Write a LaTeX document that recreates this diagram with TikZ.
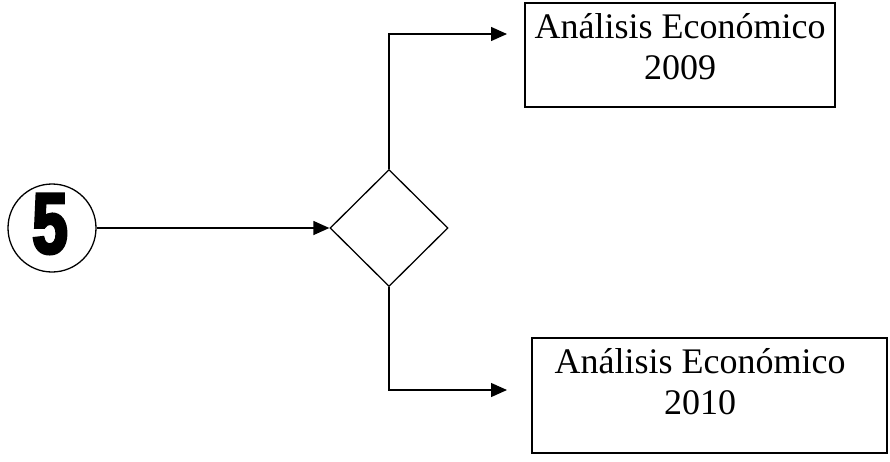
\documentclass[tikz,border=0pt]{standalone}
\usepackage{fontspec}
\setmainfont{Liberation Serif}
\newfontfamily\numfont[FakeBold=3.5,FakeStretch=0.74]{Liberation Sans Bold}
\usetikzlibrary{shapes.geometric,arrows.meta}
\begin{document}
\begin{tikzpicture}[x=1pt,y=-1pt,
  line width=1.3pt,
  flow/.style={-{Triangle[length=16pt,width=14pt]}},
  boxnode/.style={draw,rectangle,inner sep=0pt},
  boxtext/.style={align=center,inner sep=0pt,font=\fontsize{36}{41}\selectfont},
  decision/.style={draw,diamond,inner sep=0pt,minimum width=118pt,minimum height=117pt}]
\useasboundingbox (0,0) rectangle (890,461);

% start marker
\node[draw,circle,minimum size=88pt,inner sep=0pt] (start) at (52,228) {};
\node[inner sep=0pt,font=\fontsize{86}{86}\numfont] (num) at (50,224) {5};

% decision
\node[decision] (dec) at (389,228) {};

% result boxes
\node[boxnode,minimum width=310pt,minimum height=104pt] (b1) at (680,55) {};
\node[boxtext] (b1t) at (680,47) {Análisis Económico\\2009};
\node[boxnode,minimum width=355pt,minimum height=115pt] (b2) at (709.5,395.5) {};
\node[boxtext] (b2t) at (700,382) {Análisis Económico\\2010};

% arrow ends in front of the boxes
\coordinate (up) at (507,34);
\coordinate (down) at (507,390);

% connectors
\draw[flow] (start.east) -- (dec.west);
\draw[flow] (dec.north) |- (up);
\draw[flow] (dec.south) |- (down);
\end{tikzpicture}
\end{document}
